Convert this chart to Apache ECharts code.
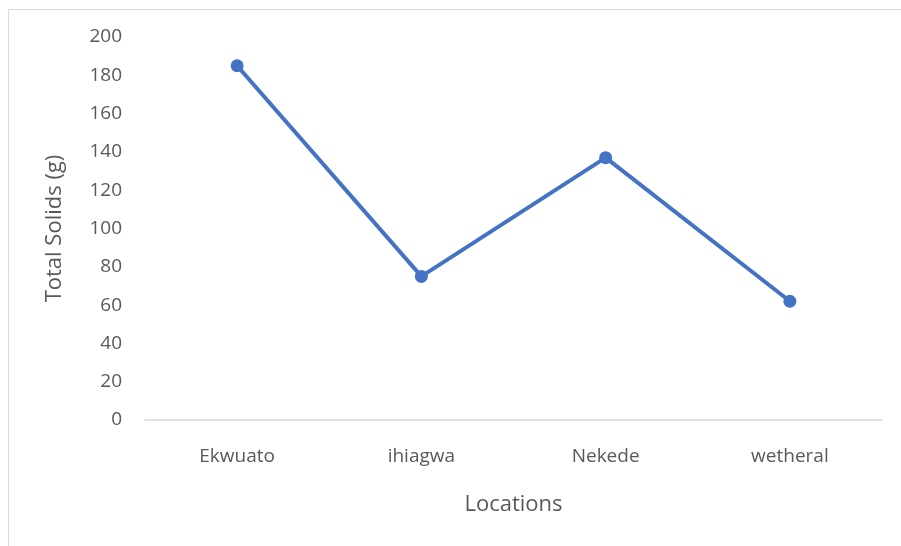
<!DOCTYPE html>
<html>
<head>
<meta charset="utf-8">
<style>
  html, body { margin: 0; padding: 0; background: #fff; }
  #chart { width: 901px; height: 546px; }
</style>
<script src="https://cdn.jsdelivr.net/npm/echarts@6/dist/echarts.min.js"></script>
</head>
<body>
<div id="chart"></div>
<script>
const locations = ['Ekwuato', 'ihiagwa', 'Nekede', 'wetheral']
const totalSolids = [185, 75, 137, 62]
const yTicks = { min: 0, max: 200, step: 20 }

const textColor = '#595959'
const fontFamily = '"Open Sans", "Noto Sans", sans-serif'

const chart = echarts.init(document.getElementById('chart'))
chart.setOption({
  animation: false,
  backgroundColor: '#fff',
  // chart frame (light border, only top & left are visible in the crop)
  graphic: [{
    type: 'rect',
    shape: { x: 8.5, y: 9.5, width: 1000, height: 1000 },
    style: { fill: 'none', stroke: '#d9d9d9', lineWidth: 1 },
    silent: true
  }],
  grid: {
    left: 145,
    right: 19,
    top: 37,
    bottom: 126
  },
  xAxis: {
    type: 'category',
    data: locations,
    boundaryGap: true,
    name: 'Locations',
    nameLocation: 'middle',
    nameGap: 74,
    nameTextStyle: { color: textColor, fontSize: 22, fontFamily: fontFamily },
    axisLine: { lineStyle: { color: '#d9d9d9', width: 1.5 } },
    axisTick: { show: false },
    axisLabel: { color: textColor, fontSize: 19, fontFamily: fontFamily, margin: 27 }
  },
  yAxis: {
    type: 'value',
    min: yTicks.min,
    max: yTicks.max,
    interval: yTicks.step,
    name: 'Total Solids (g)',
    nameLocation: 'middle',
    nameGap: 79,
    nameTextStyle: { color: textColor, fontSize: 22, fontFamily: fontFamily },
    axisLine: { show: false },
    axisTick: { show: false },
    splitLine: { show: false },
    axisLabel: { color: textColor, fontSize: 19, fontFamily: fontFamily, margin: 23 }
  },
  series: [{
    name: 'Total Solids',
    type: 'line',
    data: totalSolids,
    symbol: 'circle',
    symbolSize: 13,
    itemStyle: { color: '#4472C4' },
    lineStyle: { color: '#4472C4', width: 4 }
  }]
})
</script>
</body>
</html>
